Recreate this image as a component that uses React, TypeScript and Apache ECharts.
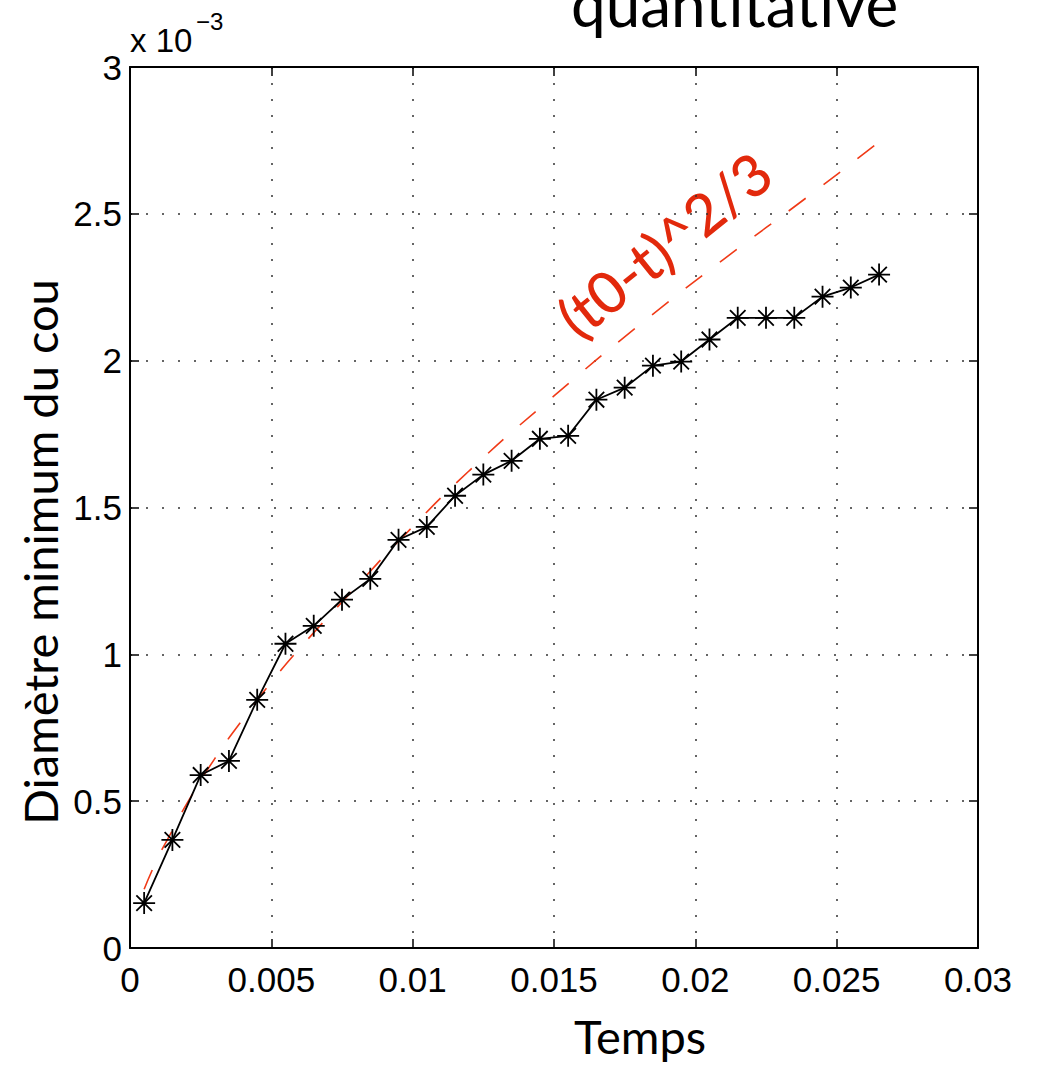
import React, { useEffect, useRef } from "react";
import * as echarts from "echarts";

// Measured time samples (s)
const timeValues = [
  0.0005, 0.0015, 0.0025, 0.0035, 0.0045, 0.0055, 0.0065, 0.0075, 0.0085,
  0.0095, 0.0105, 0.0115, 0.0125, 0.0135, 0.0145, 0.0155, 0.0165, 0.0175,
  0.0185, 0.0195, 0.0205, 0.0215, 0.0225, 0.0235, 0.0245, 0.0255, 0.0265,
];
// Minimum neck diameter, in units of 1e-3
const diameterE3 = [
  0.153, 0.368, 0.589, 0.637, 0.845, 1.036, 1.097, 1.186, 1.257, 1.39, 1.434,
  1.54, 1.612, 1.659, 1.734, 1.744, 1.867, 1.908, 1.983, 1.997, 2.072, 2.146,
  2.146, 2.146, 2.218, 2.249, 2.293,
];
// Fit curve (t0-t)^2/3
const fitTimes = [
  0.0005, 0.001, 0.0015, 0.002, 0.003, 0.004, 0.005, 0.006, 0.008, 0.0095,
  0.012, 0.015, 0.018, 0.021, 0.024, 0.0265,
];
const fitValuesE3 = [
  0.2, 0.31, 0.4, 0.49, 0.645, 0.78, 0.905, 1.02, 1.23, 1.385, 1.625, 1.88,
  2.12, 2.345, 2.56, 2.745,
];
const xTickLabels = ["0", "0.005", "0.01", "0.015", "0.02", "0.025", "0.03"];
const yTickLabels = ["0", "0.5", "1", "1.5", "2", "2.5", "3"];

const ASTERISK =
  "path://M0 -10 L0 10 M-10 0 L10 0 M-7.07 -7.07 L7.07 7.07 M-7.07 7.07 L7.07 -7.07";

export default function App() {
  const ref = useRef<HTMLDivElement>(null);

  useEffect(() => {
    if (!ref.current) return;
    const chart = echarts.init(ref.current, null, { renderer: "svg" });

    const axisLine = { show: true, onZero: false, lineStyle: { color: "#000", width: 2 } };
    const axisTick = { show: true, inside: true, length: 9, lineStyle: { color: "#000", width: 1.5 } };
    const splitLine = { show: true, lineStyle: { color: "#333", width: 1.5, type: [2, 14] } };
    const labelFont = { color: "#000", fontSize: 35, fontFamily: "Liberation Sans" };

    chart.setOption({
      animation: false,
      backgroundColor: "#fff",
      grid: { left: 130, right: 61, top: 67, bottom: 125, containLabel: false },
      xAxis: [
        {
          type: "value",
          min: 0,
          max: 0.03,
          interval: 0.005,
          position: "bottom",
          axisLine,
          axisTick,
          splitLine,
          axisLabel: {
            ...labelFont,
            margin: 14,
            formatter: (_v: number, i: number) => xTickLabels[i],
          },
        },
        {
          type: "value",
          min: 0,
          max: 0.03,
          interval: 0.005,
          position: "top",
          axisLine,
          axisTick,
          splitLine: { show: false },
          axisLabel: { show: false },
        },
      ],
      yAxis: [
        {
          type: "value",
          min: 0,
          max: 3,
          interval: 0.5,
          position: "left",
          axisLine,
          axisTick,
          splitLine,
          axisLabel: {
            ...labelFont,
            margin: 8,
            formatter: (_v: number, i: number) => yTickLabels[i],
          },
        },
        {
          type: "value",
          min: 0,
          max: 3,
          interval: 0.5,
          position: "right",
          axisLine,
          axisTick,
          splitLine: { show: false },
          axisLabel: { show: false },
        },
      ],
      series: [
        {
          type: "line",
          xAxisIndex: 0,
          yAxisIndex: 0,
          data: fitTimes.map((t, i) => [t, fitValuesE3[i]]),
          smooth: true,
          showSymbol: false,
          lineStyle: { color: "#f03a17", width: 1.6, type: [21, 22] },
          z: 2,
        },
        {
          type: "line",
          xAxisIndex: 0,
          yAxisIndex: 0,
          data: timeValues.map((t, i) => [t, diameterE3[i]]),
          symbol: ASTERISK,
          symbolSize: 22,
          showAllSymbol: true,
          lineStyle: { color: "#000", width: 1.8 },
          itemStyle: { color: "#000", borderColor: "#000", borderWidth: 1.8 },
          z: 3,
        },
      ],
      graphic: [
        {
          type: "text",
          x: 571,
          y: 3,
          style: {
            text: "quantitative",
            fontSize: 62,
            fontFamily: "Lato",
            fill: "#000",
            align: "left",
            verticalAlign: "middle",
          },
        },
        {
          type: "text",
          x: 130,
          y: 40,
          style: {
            text: "x 10",
            fontSize: 33,
            fontFamily: "Liberation Sans",
            fill: "#000",
            align: "left",
            verticalAlign: "middle",
          },
        },
        {
          type: "text",
          x: 196,
          y: 21,
          style: {
            text: "\u22123",
            fontSize: 24,
            fontFamily: "Liberation Sans",
            fill: "#000",
            align: "left",
            verticalAlign: "middle",
          },
        },
        {
          type: "text",
          x: 40,
          y: 552,
          rotation: Math.PI / 2,
          style: {
            text: "Diamètre minimum du cou",
            fontSize: 47,
            fontFamily: "Lato",
            fill: "#000",
            align: "center",
            verticalAlign: "middle",
          },
        },
        {
          type: "text",
          x: 640,
          y: 1036,
          style: {
            text: "Temps",
            fontSize: 47,
            fontFamily: "Lato",
            fill: "#000",
            align: "center",
            verticalAlign: "middle",
          },
        },
        {
          type: "text",
          x: 664,
          y: 244,
          rotation: 0.68,
          style: {
            text: "(t0-t)^2/3",
            fontSize: 58,
            fontWeight: 500,
            fontFamily: "Lato",
            fill: "#e2290c",
            align: "center",
            verticalAlign: "middle",
          },
        },
      ],
    });

    return () => chart.dispose();
  }, []);

  return (
    <div
      ref={ref}
      style={{ position: "absolute", left: 0, top: 0, width: 1039, height: 1073 }}
    />
  );
}
